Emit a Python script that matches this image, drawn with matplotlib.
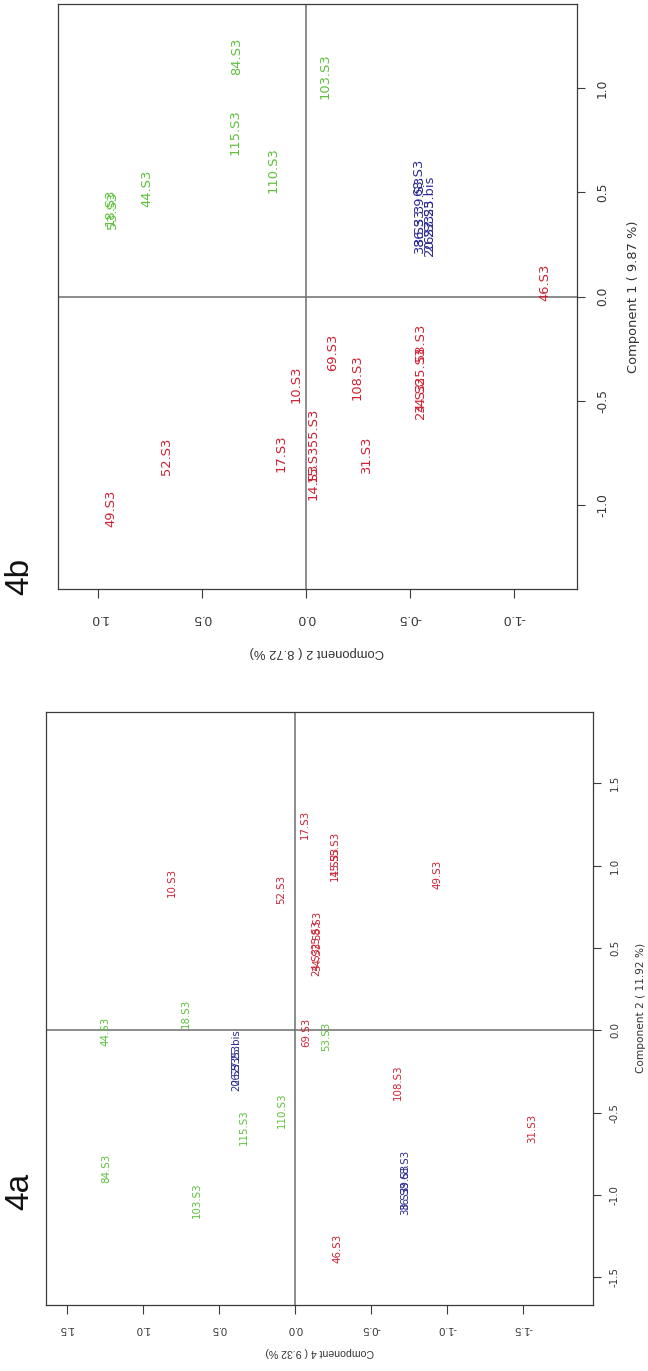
import matplotlib
matplotlib.use('Agg')
import matplotlib.pyplot as plt

W, H = 648, 1371

# ---- panel 4a : Component 4 (across the page) vs Component 2 ----
labels_4a = ['44.S3', '18.S3', '84.S3', '103.S3', '115.S3', '110.S3', '53.S3',
             '20.S3', '26.S3', '27.S3', '25.bis',
             '38.S3', '36.S3', '39.S3', '68.S3',
             '17.S3', '10.S3', '52.S3', '49.S3', '69.S3', '108.S3', '31.S3', '46.S3',
             '24.S3', '34.S3', '25.S3', '58.S3',
             '14.S3', '15.S3', '55.S3']
comp4_4a = [1.246, 0.716, 1.238, 0.641, 0.334, 0.081, -0.206,
            0.386, 0.386, 0.386, 0.386,
            -0.724, -0.724, -0.724, -0.724,
            -0.065, 0.81, 0.089, -0.94, -0.079, -0.678, -1.564, -0.28,
            -0.145, -0.145, -0.145, -0.145,
            -0.266, -0.266, -0.266]
comp2_4a = [-0.005, 0.103, -0.84, -1.028, -0.586, -0.486, -0.034,
            -0.277, -0.24, -0.17, -0.084,
            -1.034, -1.00, -0.90, -0.814,
            1.249, 0.90, 0.856, 0.949, -0.01, -0.316, -0.596, -1.321,
            0.418, 0.45, 0.58, 0.638,
            0.997, 1.03, 1.119]
groups_4a = ['g'] * 7 + ['b'] * 8 + ['r'] * 15

# ---- panel 4b : Component 2 (across the page) vs Component 1 ----
labels_4b = ['84.S3', '103.S3', '115.S3', '110.S3', '44.S3', '18.S3', '53.S3',
             '38.S3', '36.S3', '39.S3', '68.S3',
             '20.S3', '26.S3', '27.S3', '25.bis',
             '46.S3', '69.S3', '10.S3', '108.S3', '17.S3', '52.S3', '31.S3', '49.S3',
             '24.S3', '34.S3', '25.S3', '58.S3',
             '14.S3', '15.S3', '55.S3']
comp2_4b = [0.337, -0.089, 0.341, 0.159, 0.764, 0.945, 0.93,
            -0.542, -0.542, -0.542, -0.542,
            -0.591, -0.591, -0.591, -0.591,
            -1.147, -0.125, 0.048, -0.246, 0.123, 0.673, -0.29, 0.937,
            -0.548, -0.548, -0.548, -0.548,
            -0.035, -0.035, -0.035]
comp1_4b = [1.15, 1.056, 0.788, 0.604, 0.518, 0.43, 0.415,
            0.294, 0.33, 0.49, 0.573,
            0.285, 0.31, 0.38, 0.485,
            0.07, -0.268, -0.42, -0.385, -0.75, -0.764, -0.76, -1.013,
            -0.498, -0.47, -0.33, -0.219,
            -0.883, -0.80, -0.624]
groups_4b = ['g'] * 7 + ['b'] * 8 + ['r'] * 15

ticks_4a_x = [1.5, 1.0, 0.5, 0.0, -0.5, -1.0, -1.5]
ticks_4a_y = [-1.5, -1.0, -0.5, 0.0, 0.5, 1.0, 1.5]
ticks_4b_x = [1.0, 0.5, 0.0, -0.5, -1.0]
ticks_4b_y = [-1.0, -0.5, 0.0, 0.5, 1.0]

colors = {'g': '#5cc23a', 'r': '#cf2233', 'b': '#2c2c96'}


def px(x, y):
    # pixel position on the page -> figure fraction
    return x / W, 1 - y / H


def drawPanel(box, xs, ys, labels, groups, xlim, ylim, xticks, yticks,
              xlab, ylab, xlab_y, ylab_x, fs, tfs, rfs, lfs, xpad, ypad):
    left, top, right, bottom = box
    ax = fig.add_axes([left / W, 1 - bottom / H, (right - left) / W, (bottom - top) / H])
    ax.set_xlim(xlim)
    ax.set_ylim(ylim)
    ax.axhline(0, color='#6e6e6e', lw=1.1, zorder=1)
    ax.axvline(0, color='#6e6e6e', lw=1.1, zorder=1)
    for x, y, lab, g in zip(xs, ys, labels, groups):
        ax.text(x, y, lab, rotation=90, ha='center', va='center', color=colors[g],
                fontsize=fs, family='DejaVu Sans', zorder=3)
    for s in ax.spines.values():
        s.set_color('#3c3c3c')
        s.set_linewidth(0.9)
    ax.set_xticks(xticks)
    ax.set_xticklabels(['%.1f' % t for t in xticks], rotation=180,
                       fontsize=tfs, family='Liberation Sans', color='#333333')
    ax.yaxis.tick_right()
    ax.set_yticks(yticks)
    ax.set_yticklabels(['%.1f' % t for t in yticks], rotation=90, va='center',
                       fontsize=rfs, family='DejaVu Sans', color='#333333')
    ax.tick_params(axis='x', direction='out', length=6.5, width=0.8, pad=xpad, color='#3c3c3c')
    ax.tick_params(axis='y', direction='out', length=6, width=0.8, pad=ypad, color='#3c3c3c')
    cx = (left + right) / 2
    cy = (top + bottom) / 2
    fig.text(*px(cx, xlab_y), xlab, rotation=180, ha='center', va='center',
             fontsize=lfs, family='Liberation Sans', color='#333333')
    fig.text(*px(ylab_x, cy), ylab, rotation=90, ha='center', va='center',
             fontsize=lfs, family='DejaVu Sans', color='#333333')
    return ax


fig = plt.figure(figsize=(W / 100, H / 100), dpi=100)

drawPanel((57.7, 4.4, 576.7, 589), comp2_4b, comp1_4b, labels_4b, groups_4b,
          (1.195, -1.30), (-1.40, 1.40), ticks_4b_x, ticks_4b_y,
          'Component 2 ( 8.72 %)', 'Component 1 ( 9.87 %)', 652, 633,
          9.4, 9.5, 8.8, 9.4, 10, 8)

drawPanel((45.7, 711.7, 593.3, 1305), comp4_4a, comp2_4a, labels_4a, groups_4a,
          (1.638, -1.964), (-1.667, 1.935), ticks_4a_x, ticks_4a_y,
          'Component 4 ( 9.32 %)', 'Component 2 ( 11.92 %)', 1352, 641,
          7.4, 7.8, 7.4, 7.6, 7, 6)

fig.text(*px(20, 576), '4b', rotation=90, ha='center', va='center',
         fontsize=24, family='Liberation Sans', color='#111111')
fig.text(*px(20, 1191), '4a', rotation=90, ha='center', va='center',
         fontsize=24, family='Liberation Sans', color='#111111')

fig.savefig('out.png', dpi=100)
